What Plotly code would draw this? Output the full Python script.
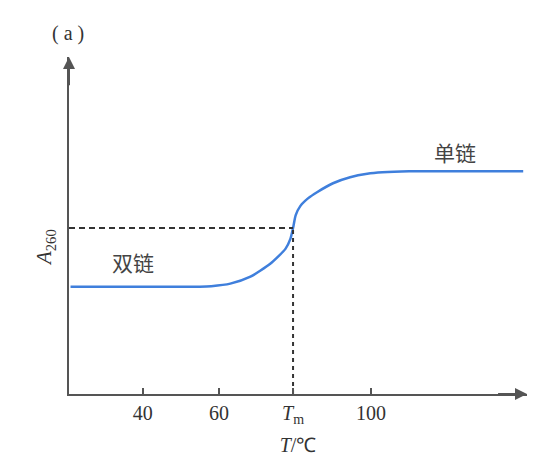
import plotly.graph_objects as go

# Data (temperature in °C, relative A260)
temp = [21, 40, 55, 58, 63, 68.3, 73.5, 77.5, 78.8, 79.5, 80.2, 81.4, 83.5, 85.8, 90, 94.5, 99, 103, 110, 125, 140]
a260 = [1.08, 1.08, 1.08, 1.085, 1.11, 1.18, 1.31, 1.46, 1.56, 1.67, 1.80, 1.89, 1.97, 2.03, 2.12, 2.18, 2.215, 2.23, 2.24, 2.24, 2.24]
tm = 79.5
tick_vals = [40, 60, tm, 100]
tick_text = ["40", "60", "<i>T</i><sub>m</sub>", "100"]
mid_val = 1.67
x_min, x_max = 20.6, 141
y_min, y_max = 0, 3.39

fig = go.Figure()
fig.add_trace(go.Scatter(x=temp, y=a260, mode="lines", line=dict(color="#3f7fdc", width=2.5, shape="spline", smoothing=0.6),
                         hoverinfo="skip"))
# dashed guide lines
fig.add_trace(go.Scatter(x=[x_min, tm], y=[mid_val, mid_val], mode="lines",
                         line=dict(color="#333333", width=2, dash="6px,4px"), hoverinfo="skip"))
fig.add_trace(go.Scatter(x=[tm, tm], y=[y_min, mid_val], mode="lines",
                         line=dict(color="#333333", width=2, dash="4px,4px"), hoverinfo="skip"))

serif = "Liberation Serif, Times New Roman, serif"
cjk = "Noto Sans CJK SC"

fig.update_layout(
    width=548, height=465,
    margin=dict(l=69, r=21, t=57, b=69),
    paper_bgcolor="white", plot_bgcolor="white",
    showlegend=False,
    xaxis=dict(range=[x_min, x_max], showgrid=False, zeroline=False, showline=True,
               linecolor="#555555", linewidth=2, tickmode="array", tickvals=tick_vals,
               ticktext=tick_text, ticks="inside", ticklen=6, tickwidth=1.5, tickcolor="#555555",
               tickfont=dict(family=serif, size=20, color="#333333"),
               title=dict(text="<i>T</i>/℃", font=dict(family=serif, size=20, color="#333333"), standoff=12)),
    yaxis=dict(range=[y_min, y_max], showgrid=False, zeroline=False, showline=True,
               linecolor="#555555", linewidth=2, showticklabels=False, ticks=""),
    annotations=[
        dict(x=x_max, y=0, xref="x", yref="y", ax=x_max - 8, ay=0, axref="x", ayref="y",
             showarrow=True, arrowhead=2, arrowsize=1.2, arrowwidth=2, arrowcolor="#555555", text=""),
        dict(x=x_min, y=y_max, xref="x", yref="y", ax=x_min, ay=y_max - 0.3, axref="x", ayref="y",
             showarrow=True, arrowhead=2, arrowsize=1.2, arrowwidth=2, arrowcolor="#555555", text=""),
        dict(x=-0.003, y=1.071, xref="paper", yref="paper", text="( a )", showarrow=False,
             font=dict(family=serif, size=20, color="#333333"), xanchor="center", yanchor="middle"),
        dict(x=-0.052, y=(396 - 249) / 339, xref="paper", yref="paper", text="<i>A</i><sub>260</sub>",
             textangle=-90, showarrow=False, font=dict(family=serif, size=21, color="#333333"),
             xanchor="center", yanchor="middle"),
        dict(x=37.5, y=1.33, xref="x", yref="y", text="双链", showarrow=False,
             font=dict(family=cjk, size=21, color="#444444"), xanchor="center", yanchor="middle"),
        dict(x=122, y=2.43, xref="x", yref="y", text="单链", showarrow=False,
             font=dict(family=cjk, size=21, color="#444444"), xanchor="center", yanchor="middle"),
    ],
)

fig.write_html("out.html")
